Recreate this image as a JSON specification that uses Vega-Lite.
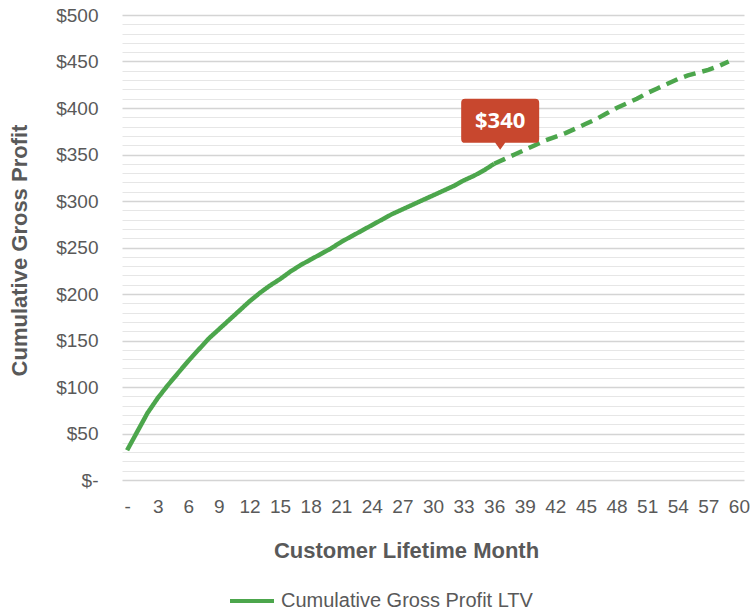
{
  "$schema": "https://vega.github.io/schema/vega-lite/v6.json",
  "width": 622,
  "height": 465,
  "autosize": "none",
  "padding": {"left": 122, "top": 15, "right": 8, "bottom": 132},
  "background": "white",
  "config": {"view": {"stroke": null}, "font": "Liberation Sans"},
  "datasets": {
    "curve": [
      {"month": 0, "value": 32, "seg": "actual", "series": "Cumulative Gross Profit LTV"},
      {"month": 1, "value": 52, "seg": "actual", "series": "Cumulative Gross Profit LTV"},
      {"month": 2, "value": 72, "seg": "actual", "series": "Cumulative Gross Profit LTV"},
      {"month": 3, "value": 88, "seg": "actual", "series": "Cumulative Gross Profit LTV"},
      {"month": 4, "value": 102, "seg": "actual", "series": "Cumulative Gross Profit LTV"},
      {"month": 5, "value": 115, "seg": "actual", "series": "Cumulative Gross Profit LTV"},
      {"month": 6, "value": 128, "seg": "actual", "series": "Cumulative Gross Profit LTV"},
      {"month": 7, "value": 140, "seg": "actual", "series": "Cumulative Gross Profit LTV"},
      {"month": 8, "value": 152, "seg": "actual", "series": "Cumulative Gross Profit LTV"},
      {"month": 9, "value": 162, "seg": "actual", "series": "Cumulative Gross Profit LTV"},
      {"month": 10, "value": 172, "seg": "actual", "series": "Cumulative Gross Profit LTV"},
      {"month": 11, "value": 182, "seg": "actual", "series": "Cumulative Gross Profit LTV"},
      {"month": 12, "value": 192, "seg": "actual", "series": "Cumulative Gross Profit LTV"},
      {"month": 13, "value": 201, "seg": "actual", "series": "Cumulative Gross Profit LTV"},
      {"month": 14, "value": 209, "seg": "actual", "series": "Cumulative Gross Profit LTV"},
      {"month": 15, "value": 216, "seg": "actual", "series": "Cumulative Gross Profit LTV"},
      {"month": 16, "value": 224, "seg": "actual", "series": "Cumulative Gross Profit LTV"},
      {"month": 17, "value": 231, "seg": "actual", "series": "Cumulative Gross Profit LTV"},
      {"month": 18, "value": 237, "seg": "actual", "series": "Cumulative Gross Profit LTV"},
      {"month": 19, "value": 243, "seg": "actual", "series": "Cumulative Gross Profit LTV"},
      {"month": 20, "value": 249, "seg": "actual", "series": "Cumulative Gross Profit LTV"},
      {"month": 21, "value": 256, "seg": "actual", "series": "Cumulative Gross Profit LTV"},
      {"month": 22, "value": 262, "seg": "actual", "series": "Cumulative Gross Profit LTV"},
      {"month": 23, "value": 268, "seg": "actual", "series": "Cumulative Gross Profit LTV"},
      {"month": 24, "value": 274, "seg": "actual", "series": "Cumulative Gross Profit LTV"},
      {"month": 25, "value": 280, "seg": "actual", "series": "Cumulative Gross Profit LTV"},
      {"month": 26, "value": 286, "seg": "actual", "series": "Cumulative Gross Profit LTV"},
      {"month": 27, "value": 291, "seg": "actual", "series": "Cumulative Gross Profit LTV"},
      {"month": 28, "value": 296, "seg": "actual", "series": "Cumulative Gross Profit LTV"},
      {"month": 29, "value": 301, "seg": "actual", "series": "Cumulative Gross Profit LTV"},
      {"month": 30, "value": 306, "seg": "actual", "series": "Cumulative Gross Profit LTV"},
      {"month": 31, "value": 311, "seg": "actual", "series": "Cumulative Gross Profit LTV"},
      {"month": 32, "value": 316, "seg": "actual", "series": "Cumulative Gross Profit LTV"},
      {"month": 33, "value": 322, "seg": "actual", "series": "Cumulative Gross Profit LTV"},
      {"month": 34, "value": 327, "seg": "actual", "series": "Cumulative Gross Profit LTV"},
      {"month": 35, "value": 333, "seg": "actual", "series": "Cumulative Gross Profit LTV"},
      {"month": 36, "value": 340, "seg": "actual", "series": "Cumulative Gross Profit LTV"},
      {"month": 36, "value": 340, "seg": "projected", "series": "Cumulative Gross Profit LTV"},
      {"month": 37, "value": 345, "seg": "projected", "series": "Cumulative Gross Profit LTV"},
      {"month": 38, "value": 350, "seg": "projected", "series": "Cumulative Gross Profit LTV"},
      {"month": 39, "value": 355, "seg": "projected", "series": "Cumulative Gross Profit LTV"},
      {"month": 40, "value": 360, "seg": "projected", "series": "Cumulative Gross Profit LTV"},
      {"month": 41, "value": 365, "seg": "projected", "series": "Cumulative Gross Profit LTV"},
      {"month": 42, "value": 369, "seg": "projected", "series": "Cumulative Gross Profit LTV"},
      {"month": 43, "value": 373, "seg": "projected", "series": "Cumulative Gross Profit LTV"},
      {"month": 44, "value": 378, "seg": "projected", "series": "Cumulative Gross Profit LTV"},
      {"month": 45, "value": 383, "seg": "projected", "series": "Cumulative Gross Profit LTV"},
      {"month": 46, "value": 388, "seg": "projected", "series": "Cumulative Gross Profit LTV"},
      {"month": 47, "value": 394, "seg": "projected", "series": "Cumulative Gross Profit LTV"},
      {"month": 48, "value": 400, "seg": "projected", "series": "Cumulative Gross Profit LTV"},
      {"month": 49, "value": 405, "seg": "projected", "series": "Cumulative Gross Profit LTV"},
      {"month": 50, "value": 410, "seg": "projected", "series": "Cumulative Gross Profit LTV"},
      {"month": 51, "value": 416, "seg": "projected", "series": "Cumulative Gross Profit LTV"},
      {"month": 52, "value": 421, "seg": "projected", "series": "Cumulative Gross Profit LTV"},
      {"month": 53, "value": 426, "seg": "projected", "series": "Cumulative Gross Profit LTV"},
      {"month": 54, "value": 431, "seg": "projected", "series": "Cumulative Gross Profit LTV"},
      {"month": 55, "value": 435, "seg": "projected", "series": "Cumulative Gross Profit LTV"},
      {"month": 56, "value": 438, "seg": "projected", "series": "Cumulative Gross Profit LTV"},
      {"month": 57, "value": 441, "seg": "projected", "series": "Cumulative Gross Profit LTV"},
      {"month": 58, "value": 445, "seg": "projected", "series": "Cumulative Gross Profit LTV"},
      {"month": 59, "value": 450, "seg": "projected", "series": "Cumulative Gross Profit LTV"}
    ],
    "callout": [
      {"month": 36, "value": 340, "label": "$340"}
    ]
  },
  "layer": [
    {
      "data": {"name": "curve"},
      "mark": {"type": "line", "strokeWidth": 4.5},
      "encoding": {
        "x": {
          "field": "month", "type": "quantitative",
          "scale": {"domain": [-0.5, 60.5], "nice": false, "zero": false},
          "axis": {
            "values": [0, 3, 6, 9, 12, 15, 18, 21, 24, 27, 30, 33, 36, 39, 42, 45, 48, 51, 54, 57, 60],
            "tickCount": 100,
            "labelExpr": "datum.value === 0 ? '-' : '' + datum.value",
            "grid": false, "domain": false, "ticks": false,
            "labelPadding": 26, "labelBaseline": "middle",
            "labelFontSize": 19, "labelColor": "#595959",
            "labelOverlap": false, "labelFlush": false, "labelBound": false,
            "title": "Customer Lifetime Month",
            "titleFontSize": 22, "titleFontWeight": "bold", "titleColor": "#595959",
            "titleX": 284, "titleY": 70, "titleBaseline": "middle", "titleAlign": "center"
          }
        },
        "y": {
          "field": "value", "type": "quantitative",
          "scale": {"domain": [0, 500], "nice": false},
          "axis": {
            "values": [0, 10, 20, 30, 40, 50, 60, 70, 80, 90, 100, 110, 120, 130, 140, 150, 160, 170, 180, 190, 200, 210, 220, 230, 240, 250, 260, 270, 280, 290, 300, 310, 320, 330, 340, 350, 360, 370, 380, 390, 400, 410, 420, 430, 440, 450, 460, 470, 480, 490, 500],
            "tickCount": 200,
            "labelExpr": "datum.value % 50 === 0 ? (datum.value === 0 ? '$-' : '$' + datum.value) : ''",
            "grid": true,
            "gridColor": {"condition": {"test": "datum.value % 50 === 0", "value": "#d4d4d4"}, "value": "#e6e6e6"},
            "gridWidth": {"condition": {"test": "datum.value % 50 === 0", "value": 1.5}, "value": 1},
            "domain": false, "ticks": false,
            "labelPadding": 24, "labelFontSize": 19, "labelColor": "#595959",
            "labelOverlap": false, "labelFlush": false, "labelBound": false,
            "title": "Cumulative Gross Profit",
            "titleFontSize": 22, "titleFontWeight": "bold", "titleColor": "#595959",
            "titleX": -103, "titleY": 235, "titleBaseline": "middle", "titleAlign": "center", "titleAngle": -90
          }
        },
        "color": {
          "field": "series", "type": "nominal",
          "scale": {"range": ["#4CA64C"]},
          "legend": {
            "orient": "none", "legendX": 106, "legendY": 562,
            "title": null, "symbolType": "stroke", "symbolSize": 1936, "symbolStrokeWidth": 4,
            "labelFontSize": 20, "labelColor": "#595959", "labelOffset": 5, "labelLimit": 500, "padding": 0
          }
        },
        "strokeDash": {
          "field": "seg", "type": "nominal",
          "scale": {"domain": ["actual", "projected"], "range": [[1, 0], [12, 7]]},
          "legend": null
        }
      }
    },
    {
      "data": {"name": "callout"},
      "mark": {
        "type": "point",
        "shape": "M-0.9,-1.308 L0.9,-1.308 Q1,-1.308 1,-1.208 L1,-0.279 Q1,-0.179 0.9,-0.179 L0.128,-0.179 L0,0 L-0.128,-0.179 L-0.9,-0.179 Q-1,-0.179 -1,-0.279 L-1,-1.208 Q-1,-1.308 -0.9,-1.308 Z",
        "size": 6084, "filled": true, "color": "#C8472E", "opacity": 1, "strokeWidth": 0,
        "xOffset": 6, "yOffset": -14
      },
      "encoding": {
        "x": {"field": "month", "type": "quantitative"},
        "y": {"field": "value", "type": "quantitative"}
      }
    },
    {
      "data": {"name": "callout"},
      "mark": {
        "type": "text", "font": "Open Sans", "fontWeight": "bold", "fontSize": 22,
        "color": "white", "align": "center", "baseline": "middle",
        "xOffset": 6, "yOffset": -43
      },
      "encoding": {
        "x": {"field": "month", "type": "quantitative"},
        "y": {"field": "value", "type": "quantitative"},
        "text": {"field": "label", "type": "nominal"}
      }
    }
  ]
}
